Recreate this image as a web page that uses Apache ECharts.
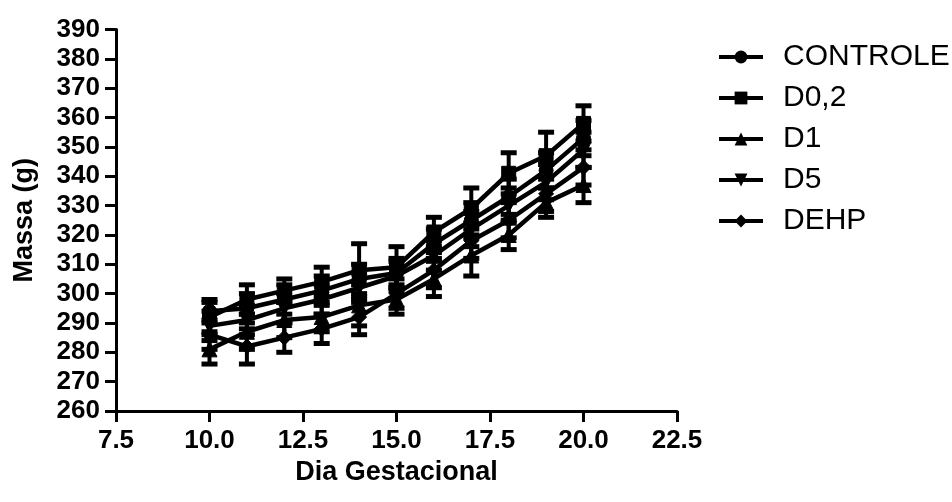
<!DOCTYPE html>
<html>
<head>
<meta charset="utf-8">
<script src="https://cdn.jsdelivr.net/npm/echarts@6/dist/echarts.min.js"></script>
<style>
  html, body { margin: 0; padding: 0; background: #fff; }
  #chart { width: 952px; height: 502px; }
</style>
</head>
<body>
<div id="chart"></div>
<script>
// dias gestacionais
var days = [10, 11, 12, 13, 14, 15, 16, 17, 18, 19, 20]

// massa média (g) por grupo
var controle = [294, 295, 298, 301, 305, 307, 317, 325, 333, 342, 353]
var d02 = [292, 298, 301, 304, 308, 309, 321, 329, 341, 347, 358]
var d1 = [281, 287, 291, 292, 296, 298, 305, 313, 320, 331, 337]
var d5 = [289, 291, 295, 298, 302, 306, 313, 322, 330, 338, 349]
var dehp = [286, 282, 285, 288, 292, 300, 308, 318, 325, 334, 343]

// erro padrão (g)
var controleErr = [4, 5, 5, 5, 5, 5, 5, 6, 6, 6, 6]
var d02Err = [5, 5, 4, 5, 9, 7, 5, 7, 7, 8, 6]
var d1Err = [5, 6, 6, 5, 7, 5, 6, 7, 5, 5, 6]
var d5Err = [5, 5, 5, 5, 5, 5, 5, 6, 6, 6, 6]
var dehpErr = [5, 6, 5, 5, 6, 5, 6, 6, 6, 6, 6]

var groups = [
  { name: 'CONTROLE', data: controle, err: controleErr, symbol: 'circle', size: 14 },
  { name: 'D0,2', data: d02, err: d02Err, symbol: 'rect', size: 14 },
  { name: 'D1', data: d1, err: d1Err, symbol: 'triangle', size: 15 },
  { name: 'D5', data: d5, err: d5Err, symbol: 'path://M0,0 L10,0 L5,10 Z', size: 15 },
  { name: 'DEHP', data: dehp, err: dehpErr, symbol: 'diamond', size: 15 }
]

var fontBase = '"Liberation Sans", Arial, sans-serif'

function errorBarItem(params, api) {
  var x = api.value(0)
  var top = api.coord([x, api.value(2)])
  var bottom = api.coord([x, api.value(1)])
  var half = 8
  var capStyle = { stroke: '#000', lineWidth: 5 }
  return {
    type: 'group',
    children: [
      { type: 'line', shape: { x1: top[0], y1: top[1], x2: bottom[0], y2: bottom[1] }, style: { stroke: '#000', lineWidth: 4 } },
      { type: 'line', shape: { x1: top[0] - half, y1: top[1], x2: top[0] + half, y2: top[1] }, style: capStyle },
      { type: 'line', shape: { x1: bottom[0] - half, y1: bottom[1], x2: bottom[0] + half, y2: bottom[1] }, style: capStyle }
    ]
  }
}

var series = []
groups.forEach(function (g) {
  series.push({
    name: g.name + ' err',
    type: 'custom',
    renderItem: errorBarItem,
    data: days.map(function (d, i) { return [d, g.data[i] - g.err[i], g.data[i] + g.err[i]] }),
    z: 1,
    silent: true
  })
})
groups.forEach(function (g) {
  series.push({
    name: g.name,
    type: 'line',
    data: days.map(function (d, i) { return [d, g.data[i]] }),
    symbol: g.symbol,
    symbolSize: g.size,
    showAllSymbol: true,
    lineStyle: { color: '#000', width: 4.5 },
    itemStyle: { color: '#000', borderColor: '#000' },
    z: 3
  })
})

var chart = echarts.init(document.getElementById('chart'))
chart.setOption({
  animation: false,
  backgroundColor: '#fff',
  grid: { left: 116, right: 275, top: 29.5, bottom: 91 },
  legend: {
    orient: 'vertical',
    left: 712,
    top: 37,
    data: groups.map(function (g) { return g.name }),
    itemWidth: 44,
    itemHeight: 16,
    itemGap: 11,
    lineStyle: { width: 4, color: '#000' },
    textStyle: { fontFamily: fontBase, fontSize: 30, color: '#000', padding: [0, 0, 0, 15] },
    inactiveColor: '#000'
  },
  xAxis: {
    type: 'value',
    min: 7.5,
    max: 22.5,
    interval: 2.5,
    name: 'Dia Gestacional',
    nameLocation: 'middle',
    nameGap: 48,
    nameTextStyle: { fontFamily: fontBase, fontSize: 27, fontWeight: 'bold', color: '#000' },
    axisLine: { lineStyle: { color: '#000', width: 3 } },
    axisTick: { length: 11, lineStyle: { color: '#000', width: 3 } },
    axisLabel: {
      fontFamily: fontBase, fontSize: 26, fontWeight: 'bold', color: '#000', margin: 17,
      formatter: function (v) { return v.toFixed(1) }
    },
    splitLine: { show: false }
  },
  yAxis: {
    type: 'value',
    min: 260,
    max: 390,
    interval: 10,
    name: 'Massa (g)',
    nameLocation: 'middle',
    nameGap: 78,
    nameRotate: 90,
    nameTextStyle: { fontFamily: fontBase, fontSize: 27, fontWeight: 'bold', color: '#000' },
    axisLine: { show: true, lineStyle: { color: '#000', width: 3 } },
    axisTick: { show: true, length: 11, lineStyle: { color: '#000', width: 3 } },
    axisLabel: { fontFamily: fontBase, fontSize: 26, fontWeight: 'bold', color: '#000', margin: 16 },
    splitLine: { show: false }
  },
  series: series
})
</script>
</body>
</html>
